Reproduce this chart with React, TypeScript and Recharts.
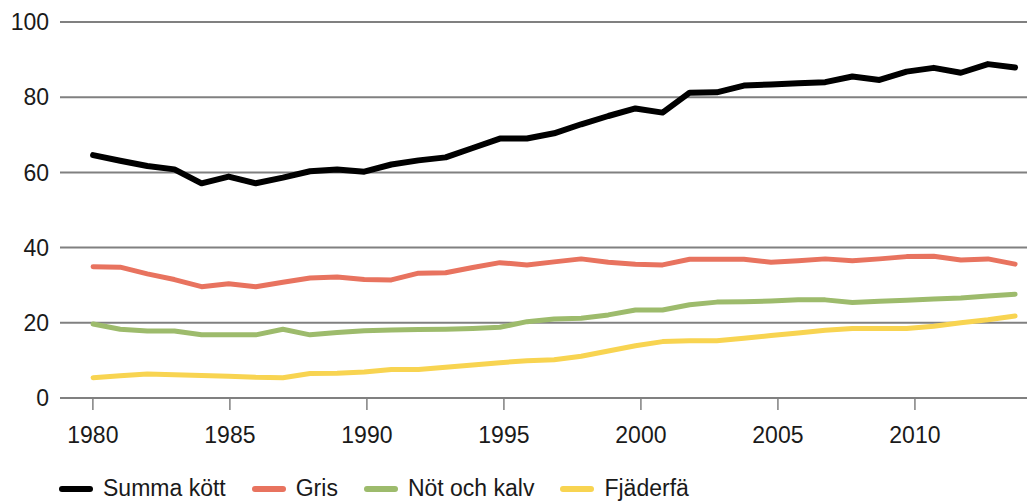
import React from "react";
import { LineChart, Line, XAxis, YAxis, CartesianGrid, Legend } from "recharts";

const years = [1980, 1981, 1982, 1983, 1984, 1985, 1986, 1987, 1988, 1989, 1990, 1991, 1992, 1993, 1994, 1995, 1996, 1997, 1998, 1999, 2000, 2001, 2002, 2003, 2004, 2005, 2006, 2007, 2008, 2009, 2010, 2011, 2012, 2013, 2014];
const summaKott = [64.6, 63.1, 61.7, 60.8, 57.1, 58.9, 57.1, 58.6, 60.3, 60.8, 60.2, 62.1, 63.2, 64.0, 66.5, 69.0, 69.0, 70.4, 72.8, 75.0, 77.0, 75.9, 81.2, 81.3, 83.1, 83.4, 83.7, 84.0, 85.5, 84.6, 86.8, 87.8, 86.5, 88.8, 87.9];
const gris = [34.9, 34.8, 33.0, 31.5, 29.6, 30.4, 29.6, 30.8, 31.9, 32.2, 31.5, 31.4, 33.2, 33.3, 34.7, 36.0, 35.4, 36.2, 37.0, 36.1, 35.6, 35.4, 36.9, 36.9, 36.9, 36.1, 36.5, 37.0, 36.5, 37.0, 37.6, 37.7, 36.7, 37.0, 35.6];
const notOchKalv = [19.7, 18.3, 17.8, 17.8, 16.8, 16.8, 16.8, 18.3, 16.8, 17.4, 17.9, 18.1, 18.2, 18.3, 18.5, 18.8, 20.3, 21.0, 21.2, 22.1, 23.4, 23.4, 24.8, 25.5, 25.6, 25.8, 26.1, 26.1, 25.4, 25.7, 26.0, 26.3, 26.6, 27.1, 27.6];
const fjaderfa = [5.4, 5.9, 6.4, 6.2, 6.0, 5.8, 5.5, 5.4, 6.5, 6.6, 6.9, 7.6, 7.6, 8.2, 8.8, 9.4, 9.9, 10.2, 11.1, 12.5, 13.9, 15.0, 15.2, 15.2, 15.9, 16.6, 17.3, 18.0, 18.5, 18.5, 18.5, 19.1, 20.0, 20.8, 21.8];

const xTicks = [1980, 1985, 1990, 1995, 2000, 2005, 2010];
const yTicks = [0, 20, 40, 60, 80, 100];

const seriesNames = ["Summa kött", "Gris", "Nöt och kalv", "Fjäderfä"];
const seriesKeys = ["summa", "gris", "not", "fjader"];
const seriesColors = ["#000000", "#E8735F", "#9DBB6C", "#F8D451"];
const seriesWidths = [6, 5, 5, 5];

const data = years.map((y, i) => ({
  year: y,
  summa: summaKott[i],
  gris: gris[i],
  not: notOchKalv[i],
  fjader: fjaderfa[i],
}));

const FONT = "'Liberation Sans', Arial, sans-serif";

const LegendContent = () => (
  <div style={{ display: "flex", alignItems: "center", fontFamily: FONT, fontSize: 23, color: "#1a1a1a" }}>
    {seriesNames.map((n, i) => (
      <div key={n} style={{ display: "flex", alignItems: "center", marginRight: 26 }}>
        <div style={{ width: 34, height: 6, borderRadius: 3, background: seriesColors[i], marginRight: 10 }} />
        <span>{n}</span>
      </div>
    ))}
  </div>
);

export default function App() {
  return (
    <div style={{ position: "absolute", left: 0, top: 0, width: 1027, height: 502, background: "#fff" }}>
      <LineChart width={1027} height={502} data={data} margin={{ top: 22, right: 0, bottom: 64, left: 0 }}>
        <CartesianGrid xAxisId="t" horizontal={true} vertical={false} stroke="#808080" strokeWidth={2} />
        <XAxis
          xAxisId="d"
          dataKey="year"
          type="number"
          domain={[1978.78, 2014.44]}
          allowDataOverflow
          height={0}
          hide
        />
        <XAxis
          xAxisId="t"
          dataKey="year"
          type="number"
          domain={[1978.8, 2014.09]}
          allowDataOverflow
          ticks={xTicks}
          interval={0}
          height={40}
          axisLine={false}
          tickLine={{ stroke: "#808080", strokeWidth: 1.5 }}
          tickSize={12}
          tickMargin={17}
          tick={{ fill: "#1a1a1a", fontSize: 23, fontFamily: FONT }}
        />
        <YAxis
          domain={[0, 100]}
          ticks={yTicks}
          width={60}
          axisLine={false}
          tickLine={false}
          tickSize={0}
          tickMargin={11}
          tick={{ fill: "#1a1a1a", fontSize: 23, fontFamily: FONT }}
        />
        {seriesKeys.map((k, i) => (
          <Line
            key={k}
            xAxisId="d"
            type="linear"
            dataKey={k}
            name={seriesNames[i]}
            stroke={seriesColors[i]}
            strokeWidth={seriesWidths[i]}
            strokeLinecap="round"
            strokeLinejoin="round"
            dot={false}
            activeDot={false}
            isAnimationActive={false}
          />
        ))}
        <Legend
          layout="horizontal"
          verticalAlign="middle"
          align="center"
          content={<LegendContent />}
          wrapperStyle={{ position: "absolute", top: 475, left: 59, width: 900 }}
        />
      </LineChart>
    </div>
  );
}
